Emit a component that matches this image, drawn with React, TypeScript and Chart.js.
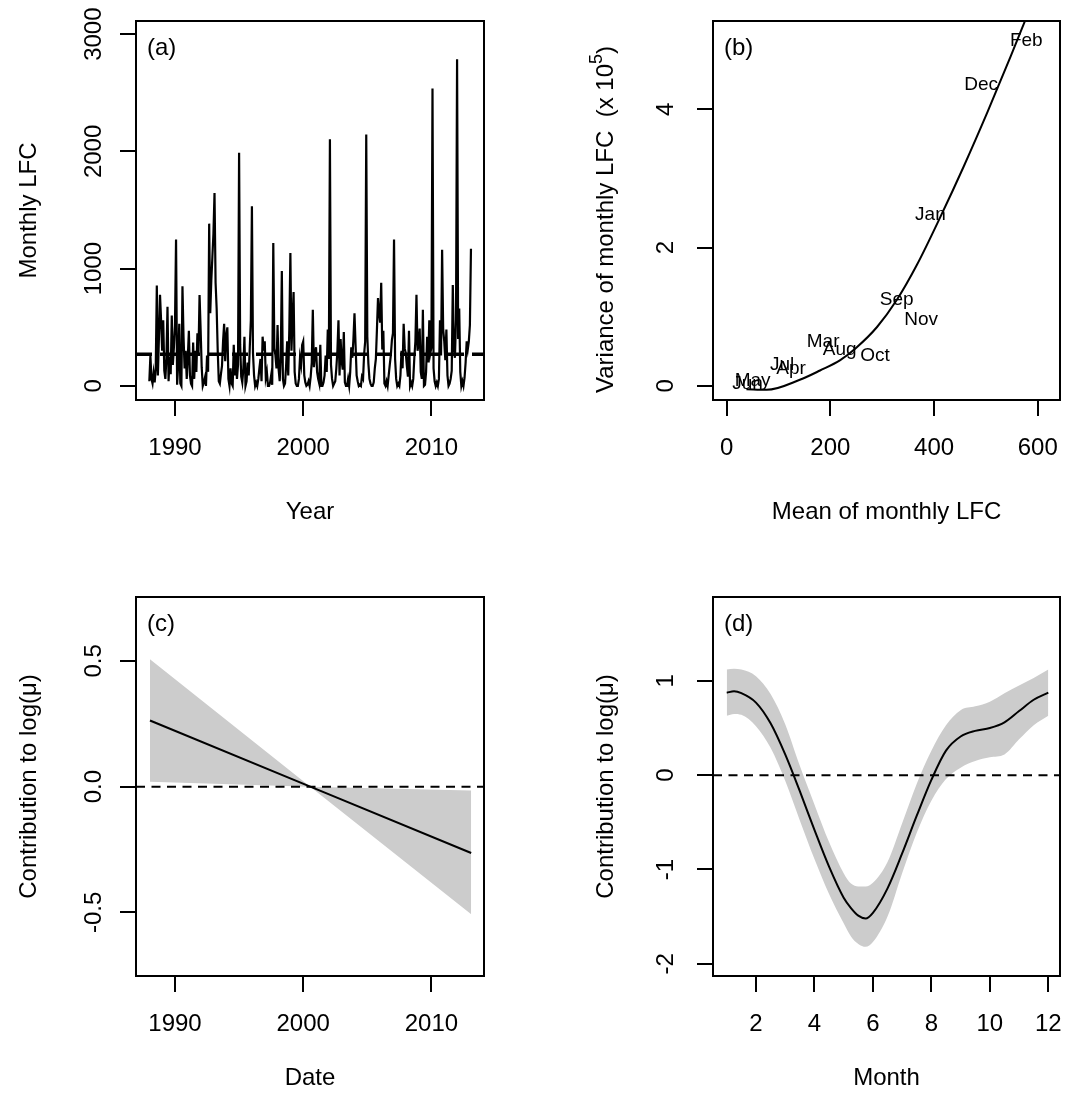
import React, { useEffect, useRef } from "react";
import { Chart, registerables } from "chart.js";
Chart.register(...registerables);

const FONT = "'Liberation Sans', Arial, Helvetica, sans-serif";
const FS = 24;
const GREY = "rgb(204,204,204)";

// ---------- Panel (a): monthly LFC, Jan 1988 .. Feb 2013 ----------
const LFC_FIRST_YEAR = 1988;
const LFC_MONTHLY = [
  40, 260, 60, 20, 110, 30, 150, 857, 90, 420, 778, 560,
  300, 560, 130, 60, 240, 675, 40, 250, 100, 600, 180, 330,
  520, 1248, 10, 180, 530, 20, 0, 849, 420, 150, 300, 60,
  240, 470, 90, 20, 0, 370, 60, 300, 120, 450, 280, 775,
  480, 160, 0, 30, 70, 0, 260, 120, 1384, 620, 900, 1100,
  1300, 1646, 880, 660, 300, 40, 20, 100, 170, 380, 530, 210,
  430, 500, 60, 0, 150, 20, 0, 350, 90, 260, 60, 180,
  1989, 350, 80, 30, 150, 420, 0, 40, 200, 90, 330, 560,
  1533, 280, 90, 0, 30, 0, 60, 150, 230, 40, 420, 300,
  380, 70, 120, 0, 0, 30, 90, 10, 1219, 320, 260, 150,
  520, 140, 40, 250, 980, 60, 0, 20, 170, 380, 90, 480,
  1134, 300, 560, 800, 120, 20, 0, 0, 60, 240, 180, 350,
  380, 90, 30, 0, 10, 40, 0, 80, 200, 650, 160, 270,
  330, 120, 60, 20, 350, 0, 0, 30, 90, 260, 120, 480,
  230, 2103, 180, 60, 0, 20, 40, 150, 300, 560, 90, 400,
  210, 140, 460, 30, 0, 0, 60, 0, 120, 330, 240, 400,
  620, 350, 90, 40, 0, 10, 0, 80, 60, 270, 380, 2145,
  420, 190, 60, 20, 0, 0, 30, 150, 230, 480, 750, 620,
  540, 880, 310, 470, 20, 0, 40, 0, 90, 180, 260, 390,
  450, 1248, 230, 60, 0, 20, 0, 90, 300, 150, 530, 320,
  280, 170, 80, 470, 0, 30, 0, 60, 240, 380, 778, 300,
  360, 490, 120, 60, 650, 0, 10, 120, 420, 200, 560, 280,
  330, 2536, 150, 40, 0, 30, 0, 60, 560, 260, 1162, 480,
  380, 220, 480, 90, 0, 20, 60, 130, 860, 320, 240, 560,
  2786, 400, 660, 120, 0, 40, 0, 70, 200, 380, 310, 380,
  520, 1170,
];
const LFC_MEAN_LINE = [270];
const A_X_TICKS = [1990, 2000, 2010];
const A_Y_TICKS = [0, 1000, 2000, 3000];
const A_X_RANGE = [1986.96, 2014.1];
const A_Y_RANGE = [-120, 3112];

// ---------- Panel (b): mean-variance by month ----------
const MONTH_NAMES = ["Jan", "Feb", "Mar", "Apr", "May", "Jun", "Jul", "Aug", "Sep", "Oct", "Nov", "Dec"];
const MONTH_MEAN = [393, 578, 186, 124, 50, 40, 107, 218, 328, 286, 375, 491];
const MONTH_VAR = [2.47, 5.0, 0.64, 0.24, 0.07, 0.03, 0.3, 0.52, 1.25, 0.43, 0.96, 4.36];
const CURVE_MEAN = [38, 77, 141, 180, 219, 250, 290, 328, 367, 412, 457, 503, 548, 577, 600];
const CURVE_VAR = [-0.05, -0.06, 0.086, 0.22, 0.37, 0.55, 0.85, 1.24, 1.75, 2.44, 3.17, 3.96, 4.77, 5.31, 5.75];
const B_X_TICKS = [0, 200, 400, 600];
const B_Y_TICKS = [0, 2, 4];
const B_X_RANGE = [-26.5, 643];
const B_Y_RANGE = [-0.207, 5.28];

// ---------- Panel (c): linear trend ----------
const TREND_YEAR = [1988.05, 2000.55, 2013.1];
const TREND_FIT = [0.263, 0.0, -0.264];
const TREND_UPPER = [0.506, 0.0, -0.015];
const TREND_LOWER = [0.019, 0.0, -0.507];
const C_Y_TICKS = [-0.5, 0, 0.5];
const C_Y_RANGE = [-0.753, 0.754];
const ZERO_LINE = [0];

// ---------- Panel (d): seasonal smooth ----------
const SEAS_MONTH = [1, 1.25, 1.5, 2, 2.5, 3, 3.5, 4, 4.5, 5, 5.25, 5.5, 5.75, 6, 6.5, 7, 7.5, 8, 8.5, 9, 9.5, 10, 10.5, 11, 11.5, 12];
const SEAS_FIT = [0.875, 0.89, 0.87, 0.77, 0.55, 0.22, -0.17, -0.58, -0.97, -1.3, -1.41, -1.49, -1.52, -1.46, -1.2, -0.83, -0.43, -0.05, 0.26, 0.41, 0.47, 0.5, 0.56, 0.68, 0.8, 0.875];
const SEAS_UPPER = [1.12, 1.13, 1.12, 1.05, 0.86, 0.54, 0.1, -0.31, -0.71, -1.04, -1.15, -1.18, -1.18, -1.14, -0.92, -0.51, -0.09, 0.26, 0.53, 0.69, 0.73, 0.78, 0.87, 0.95, 1.03, 1.12];
const SEAS_LOWER = [0.63, 0.65, 0.64, 0.52, 0.29, -0.06, -0.48, -0.89, -1.26, -1.57, -1.71, -1.79, -1.82, -1.77, -1.5, -1.04, -0.61, -0.27, -0.04, 0.08, 0.15, 0.19, 0.22, 0.38, 0.53, 0.63];
const D_X_TICKS = [2, 4, 6, 8, 10, 12];
const D_Y_TICKS = [-2, -1, 0, 1];
const D_X_RANGE = [0.53, 12.4];
const D_Y_RANGE = [-2.13, 1.89];

const xy = (xs: number[], ys: number[]) => xs.map((x, i) => ({ x, y: ys[i] }));

function makeDeco(p: any) {
  return {
    id: "rdeco",
    afterDatasetsDraw(chart: any) {
      const { ctx, chartArea: ca } = chart;
      const ys = chart.scales.y;
      (p.hlines || []).forEach((h: any) => {
        const py = ys.getPixelForValue(h.value);
        ctx.save();
        ctx.beginPath();
        ctx.setLineDash(h.dash);
        ctx.lineWidth = h.width;
        ctx.strokeStyle = "#000";
        ctx.moveTo(ca.left, py);
        ctx.lineTo(ca.right, py);
        ctx.stroke();
        ctx.restore();
      });
      if (p.pointLabels) {
        const meta = chart.getDatasetMeta(p.pointLabels.dataset);
        ctx.save();
        ctx.fillStyle = "#000";
        ctx.font = `${p.pointLabels.size}px ${FONT}`;
        ctx.textAlign = "center";
        ctx.textBaseline = "middle";
        meta.data.forEach((el: any, i: number) => {
          ctx.fillText(p.pointLabels.labels[i], el.x, el.y);
        });
        ctx.restore();
      }
    },
    afterDraw(chart: any) {
      const { ctx, chartArea: ca } = chart;
      const ys = chart.scales.y;
      ctx.save();
      ctx.strokeStyle = "#000";
      ctx.lineWidth = 2;
      ctx.setLineDash([]);
      ctx.strokeRect(ca.left, ca.top, ca.right - ca.left, ca.bottom - ca.top);
      ctx.fillStyle = "#000";
      ctx.font = `${FS}px ${FONT}`;
      ctx.textAlign = "left";
      ctx.textBaseline = "middle";
      ctx.fillText(p.panel, ca.left + 11, ca.top + 27);
      ys.ticks.forEach((t: any) => {
        const py = ys.getPixelForValue(t.value);
        ctx.save();
        ctx.translate(ca.left - p.yLabOff, py);
        ctx.rotate(-Math.PI / 2);
        ctx.textAlign = "center";
        ctx.textBaseline = "middle";
        ctx.fillText(p.yFmt(t.value), 0, 0);
        ctx.restore();
      });
      if (p.yTitleSup) {
        const s = p.yTitleSup;
        const cy = (ca.top + ca.bottom) / 2 + s.shift;
        ctx.save();
        ctx.translate(ca.left - s.off, cy);
        ctx.rotate(-Math.PI / 2);
        ctx.textBaseline = "middle";
        ctx.textAlign = "left";
        ctx.font = `${FS}px ${FONT}`;
        const w1 = ctx.measureText(s.main).width;
        const w3 = ctx.measureText(s.tail).width;
        ctx.font = `${Math.round(FS * 0.75)}px ${FONT}`;
        const w2 = ctx.measureText(s.sup).width;
        const x0 = -(w1 + w2 + w3) / 2;
        ctx.font = `${FS}px ${FONT}`;
        ctx.fillText(s.main, x0, 0);
        ctx.fillText(s.tail, x0 + w1 + w2, 0);
        ctx.font = `${Math.round(FS * 0.75)}px ${FONT}`;
        ctx.fillText(s.sup, x0 + w1, -9);
        ctx.restore();
      }
      ctx.restore();
    },
  };
}

const TITLE_OFF = 107;

function makeConfig(p: any) {
  const font = { family: FONT, size: FS };
  const grid = { display: true, drawOnChartArea: false, drawTicks: true, tickLength: 16, color: "#000", lineWidth: 2 };
  return {
    type: "line",
    data: { datasets: p.datasets },
    plugins: [makeDeco(p)],
    options: {
      animation: false,
      responsive: false,
      maintainAspectRatio: false,
      events: [],
      layout: { padding: { left: 0, top: p.padTop, right: p.padRight, bottom: 0 } },
      plugins: { legend: { display: false }, tooltip: { enabled: false } },
      elements: { point: { radius: 0 } },
      scales: {
        x: {
          type: "linear",
          position: "bottom",
          min: p.xRange[0],
          max: p.xRange[1],
          afterBuildTicks: (s: any) => { s.ticks = p.xTicks.map((v: number) => ({ value: v })); },
          afterFit: (s: any) => { s.height = p.xHeight; s.paddingLeft = 0; s.paddingRight = 0; },
          grid,
          border: { display: false },
          ticks: { padding: 18, color: "#000", font, maxRotation: 0, minRotation: 0, autoSkip: false, callback: (v: any) => String(v) },
          title: { display: true, text: p.xTitle, color: "#000", font, padding: { top: 0, bottom: p.xTitlePad } },
        },
        y: {
          type: "linear",
          position: "left",
          min: p.yRange[0],
          max: p.yRange[1],
          afterBuildTicks: (s: any) => { s.ticks = p.yTicks.map((v: number) => ({ value: v })); },
          afterFit: (s: any) => { s.width = p.yWidth; s.paddingTop = 0; s.paddingBottom = 0; },
          grid,
          border: { display: false },
          ticks: { display: false },
          title: p.yTitle
            ? { display: true, text: p.yTitle, color: "#000", font, padding: { top: p.yWidth - TITLE_OFF - FS * 0.6, bottom: 0 } }
            : { display: false },
        },
      },
    },
  };
}

const lineDs = (data: any, extra: any = {}) => ({
  data,
  borderColor: "#000",
  borderWidth: 2,
  pointRadius: 0,
  fill: false,
  tension: 0,
  ...extra,
});

const PANELS: any[] = [
  {
    left: 0, top: 0, w: 540, h: 560, padTop: 21, padRight: 56, yWidth: 136, xHeight: 160,
    xRange: A_X_RANGE, yRange: A_Y_RANGE, xTicks: A_X_TICKS, yTicks: A_Y_TICKS,
    xTitle: "Year", xTitlePad: 33, yTitle: "Monthly LFC", yLabOff: 42,
    yFmt: (v: number) => String(v), panel: "(a)",
    hlines: [{ value: LFC_MEAN_LINE[0], dash: [16, 8], width: 3.5 }],
    datasets: [lineDs(LFC_MONTHLY.map((v, i) => ({ x: LFC_FIRST_YEAR + i / 12, y: v })), { borderWidth: 2.2 })],
  },
  {
    left: 540, top: 0, w: 527, h: 560, padTop: 21, padRight: 7, yWidth: 173, xHeight: 160,
    xRange: B_X_RANGE, yRange: B_Y_RANGE, xTicks: B_X_TICKS, yTicks: B_Y_TICKS,
    xTitle: "Mean of monthly LFC", xTitlePad: 33, yTitle: null, yLabOff: 47,
    yTitleSup: { main: "Variance of monthly LFC  (x 10", sup: "5", tail: ")", off: TITLE_OFF, shift: 9 },
    yFmt: (v: number) => String(v), panel: "(b)",
    pointLabels: { dataset: 1, labels: MONTH_NAMES, size: 19 },
    datasets: [
      lineDs(xy(CURVE_MEAN, CURVE_VAR), { cubicInterpolationMode: "monotone" }),
      lineDs(xy(MONTH_MEAN, MONTH_VAR), { showLine: false, borderWidth: 0 }),
    ],
  },
  {
    left: 0, top: 560, w: 540, h: 543, padTop: 37, padRight: 56, yWidth: 136, xHeight: 127,
    xRange: A_X_RANGE, yRange: C_Y_RANGE, xTicks: A_X_TICKS, yTicks: C_Y_TICKS,
    xTitle: "Date", xTitlePad: 10, yTitle: "Contribution to log(\u03bc)", yLabOff: 42,
    yFmt: (v: number) => v.toFixed(1), panel: "(c)",
    hlines: [{ value: ZERO_LINE[0], dash: [9, 6.5], width: 2 }],
    datasets: [
      lineDs(xy(TREND_YEAR, TREND_FIT)),
      lineDs(xy(TREND_YEAR, TREND_UPPER), { borderColor: "rgba(0,0,0,0)", backgroundColor: GREY, fill: "+1" }),
      lineDs(xy(TREND_YEAR, TREND_LOWER), { borderColor: "rgba(0,0,0,0)" }),
    ],
  },
  {
    left: 540, top: 560, w: 527, h: 543, padTop: 37, padRight: 7, yWidth: 173, xHeight: 127,
    xRange: D_X_RANGE, yRange: D_Y_RANGE, xTicks: D_X_TICKS, yTicks: D_Y_TICKS,
    xTitle: "Month", xTitlePad: 10, yTitle: "Contribution to log(\u03bc)", yLabOff: 47,
    yFmt: (v: number) => String(v), panel: "(d)",
    hlines: [{ value: ZERO_LINE[0], dash: [9, 6.5], width: 2 }],
    datasets: [
      lineDs(xy(SEAS_MONTH, SEAS_FIT), { cubicInterpolationMode: "monotone" }),
      lineDs(xy(SEAS_MONTH, SEAS_UPPER), { borderColor: "rgba(0,0,0,0)", backgroundColor: GREY, fill: "+1", cubicInterpolationMode: "monotone" }),
      lineDs(xy(SEAS_MONTH, SEAS_LOWER), { borderColor: "rgba(0,0,0,0)", cubicInterpolationMode: "monotone" }),
    ],
  },
];

export default function App() {
  const r0 = useRef<HTMLCanvasElement>(null);
  const r1 = useRef<HTMLCanvasElement>(null);
  const r2 = useRef<HTMLCanvasElement>(null);
  const r3 = useRef<HTMLCanvasElement>(null);
  const refs = [r0, r1, r2, r3];
  useEffect(() => {
    const charts = PANELS.map((p, i) => new Chart(refs[i].current as any, makeConfig(p) as any));
    return () => charts.forEach((c) => c.destroy());
  }, []);
  return (
    <div style={{ position: "absolute", left: 0, top: 0, width: 1067, height: 1103, background: "#fff" }}>
      {PANELS.map((p, i) => (
        <canvas
          key={i}
          ref={refs[i]}
          width={p.w}
          height={p.h}
          style={{ position: "absolute", left: p.left, top: p.top, width: p.w, height: p.h }}
        />
      ))}
    </div>
  );
}
